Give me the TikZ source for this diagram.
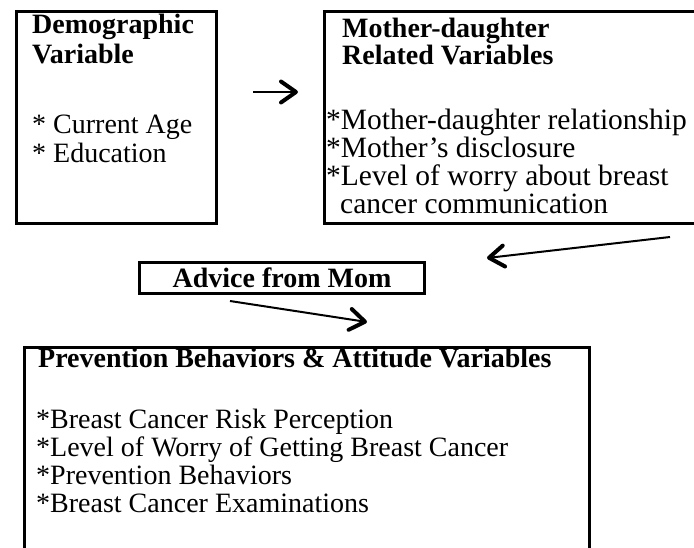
\documentclass[tikz,border=0pt]{standalone}
\usepackage{fontspec}
\setmainfont{Liberation Serif}
\usetikzlibrary{arrows.meta}

\tikzset{
	box/.style={draw, line width=3pt, rectangle, inner sep=0pt, anchor=north west},
	txt/.style={inner sep=0pt, anchor=base west, font=\fontsize{28}{28}\selectfont},
	bigtxt/.style={txt, font=\fontsize{29.5}{28}\selectfont},
	ttl/.style={txt, font=\fontsize{28}{28}\selectfont\bfseries},
	link/.style={line width=2pt, -{Straight Barb[length=15pt,width=21pt,line width=4pt,round]}}
}

\begin{document}
\begin{tikzpicture}[x=1pt, y=-1pt]
			%%%%% START %%%%%
			\useasboundingbox (0,0) rectangle (694,547);
			\clip (0,0) rectangle (694,547);
			
			% demographic box
			\node[box, minimum width=200pt, minimum height=212pt] (demo) at (15,10) {};
			\node[ttl] (demoA) at (32,33) {Demographic};
			\node[ttl] (demoB) at (32,63) {Variable};
			\foreach \t [count=\i] in {Current Age, Education}
				\node[txt] (demo\i) at (32,{104+29*\i}) {* \t};
			
			% mother-daughter box
			\node[box, minimum width=400pt, minimum height=212pt] (mother) at (323,10) {};
			\node[ttl] (motherA) at (342,37) {Mother-daughter};
			\node[ttl] (motherB) at (342,64) {Related Variables};
			\foreach \t [count=\i] in {*Mother-daughter relationship, *Mother’s disclosure, *Level of worry about breast}
				\node[bigtxt] (mother\i) at (326,{101+28*\i}) {\t};
			\node[bigtxt] (mother4) at (340,213) {cancer communication};
			
			% advice
			\node[box, minimum width=285pt, minimum height=31pt, font=\fontsize{28}{28}\selectfont\bfseries] (advice) at (138,261) {Advice from Mom};
			
			% prevention box
			\node[box, minimum width=565pt, minimum height=250pt] (prevent) at (23,346) {};
			\node[ttl] (preventA) at (38,367) {Prevention Behaviors \& Attitude Variables};
			\foreach \t [count=\i] in {*Breast Cancer Risk Perception, *Level of Worry of Getting Breast Cancer, *Prevention Behaviors, *Breast Cancer Examinations}
				\node[txt] (prevent\i) at (36,{400+28*\i}) {\t};
			
			% arrows
			\coordinate (a1) at (253,92);
			\coordinate (a1e) at (298,92);
			\coordinate (a2) at (670,237);
			\coordinate (a2e) at (487,258);
			\coordinate (a3) at (230,301);
			\coordinate (a3e) at (367,322);
			\draw[link] (a1) -- (a1e);
			\draw[link] (a2) -- (a2e);
			\draw[link] (a3) -- (a3e);
			
			%%%%% END %%%%%
\end{tikzpicture}
\end{document}
